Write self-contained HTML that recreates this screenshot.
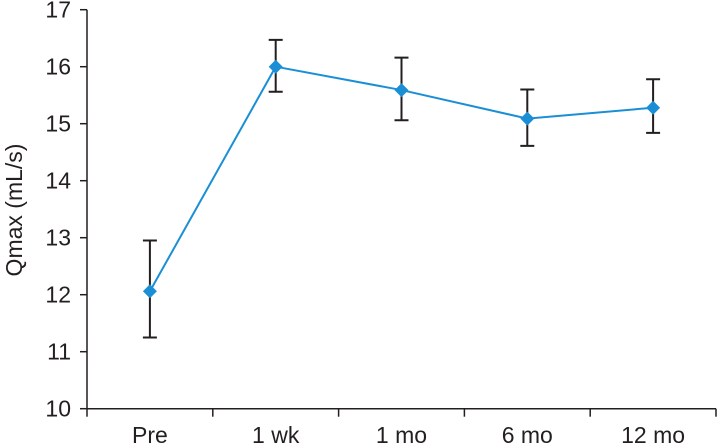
<!DOCTYPE html>
<html><head><meta charset="utf-8"><style>
body{margin:0;background:#fff}
svg{display:block;font-family:"Liberation Sans",Arial,sans-serif}
</style></head><body>
<svg id="chart" width="720" height="445" xmlns="http://www.w3.org/2000/svg"></svg>
<script>
const categories = ["Pre","1 wk","1 mo","6 mo","12 mo"];
const means = [12.06, 16.0, 15.59, 15.09, 15.28];
const upper = [12.95, 16.47, 16.16, 15.6, 15.78];
const lower = [11.25, 15.56, 15.06, 14.61, 14.84];
const yTicks = [10,11,12,13,14,15,16,17];

const svg = document.getElementById('chart');
const NS = 'http://www.w3.org/2000/svg';
const x0 = 87, x1 = 716, yTop = 9.7, yBot = 408.7, yMin = 10, yMax = 17;
const band = (x1 - x0) / categories.length;
const xs = i => x0 + band * (i + 0.5);
const ys = v => yBot - (v - yMin) / (yMax - yMin) * (yBot - yTop);
function mk(tag, attrs){const e=document.createElementNS(NS,tag);for(const k in attrs)e.setAttribute(k,attrs[k]);svg.appendChild(e);return e;}

let e = mk('line',{x1:x0,y1:yTop,x2:x0,y2:yBot,stroke:'#231f20','stroke-width':1.5});


e = mk('line',{x1:x0,y1:yBot,x2:x1,y2:yBot,stroke:'#231f20','stroke-width':1.5});



yTicks.forEach(t=>{
  const y=ys(t);
  let l=mk('line',{x1:x0-7,y1:y,x2:x0,y2:y,stroke:'#231f20','stroke-width':1.5});
  
  
  let tx=mk('text',{x:x0-16,y:y+8,'text-anchor':'end','font-size':23,fill:'#231f20'});
  tx.textContent=t;
  
  
});
for(let i=0;i<=categories.length;i++){
  const x=x0+band*i;
  let l=mk('line',{x1:x,y1:yBot,x2:x,y2:yBot+8,stroke:'#231f20','stroke-width':1.5});
  
  
}
categories.forEach((c,i)=>{
  let tx=mk('text',{x:xs(i),y:443,'text-anchor':'middle','font-size':23,fill:'#231f20'});
  tx.textContent=c;
  
  
});
let title=mk('text',{x:0,y:0,'text-anchor':'middle','font-size':23,fill:'#231f20',transform:'translate(22,210) rotate(-90)'});
title.textContent='Qmax (mL/s)';



categories.forEach((c,i)=>{
  const x=xs(i);
  const g=mk('path',{d:`M${x},${ys(upper[i])}V${ys(lower[i])}M${x-7},${ys(upper[i])}H${x+7}M${x-7},${ys(lower[i])}H${x+7}`,stroke:'#231f20','stroke-width':2,fill:'none'});
  
  
});
const line=mk('polyline',{points:means.map((v,i)=>xs(i)+','+ys(v)).join(' '),fill:'none',stroke:'#1a8fd6','stroke-width':2});


means.forEach((v,i)=>{
  const x=xs(i),y=ys(v),r=7;
  const p=mk('path',{d:`M${x},${y-r}L${x+r},${y}L${x},${y+r}L${x-r},${y}Z`,fill:'#1a8fd6'});
  
  
});
</script>
</body></html>
